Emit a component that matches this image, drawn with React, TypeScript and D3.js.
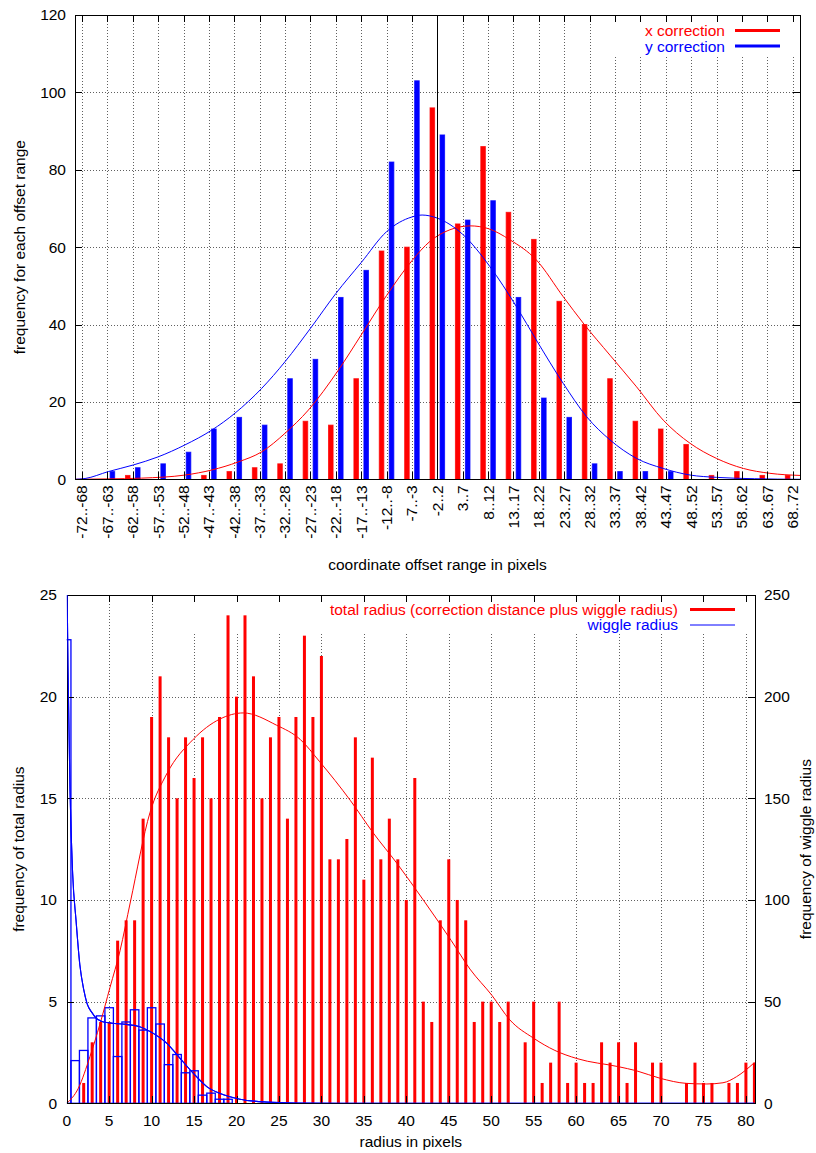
import React from "react";
import * as d3 from "d3";

// ---------- Top chart data ----------
const offsetLabels = [
  "-72..-68", "-67..-63", "-62..-58", "-57..-53", "-52..-48", "-47..-43", "-42..-38",
  "-37..-33", "-32..-28", "-27..-23", "-22..-18", "-17..-13", "-12..-8", "-7..-3",
  "-2..2", "3..7", "8..12", "13..17", "18..22", "23..27", "28..32", "33..37",
  "38..42", "43..47", "48..52", "53..57", "58..62", "63..67", "68..72",
];
const xCorrection = [0, 0, 1, 0, 0, 1, 2, 3, 4, 15, 14, 26, 59, 60, 96, 66, 86, 69, 62, 46, 40, 26, 15, 13, 9, 1, 2, 1, 1];
const yCorrection = [0, 2, 3, 4, 7, 13, 16, 14, 26, 31, 47, 54, 82, 103, 89, 67, 72, 47, 21, 16, 4, 2, 2, 2, 0, 0, 0, 0, 0];
const xFitPos = [-0.28, 1.0, 2.35, 4.06, 5.11, 6.16, 7.08, 8.0, 8.92, 10.1, 11.0, 12.0, 13.0, 13.71, 14.5, 15.3, 16.0, 16.86, 17.9, 18.96, 19.78, 20.8, 21.85, 22.9, 23.96, 25.0, 26.06, 27.1, 28.29];
const xFitVal = [0, 0.1, 0.3, 1.1, 2.4, 4.5, 7.1, 11.9, 17.9, 28.2, 37.3, 47.5, 56.5, 61.5, 64.5, 65.5, 64.8, 61.9, 56.7, 47.2, 40.1, 32.1, 23.9, 15.3, 9.3, 5.4, 2.8, 1.55, 1.0];
const yFitPos = [-0.28, 0.12, 1.04, 2.02, 3.0, 4.06, 5.11, 6.03, 7.08, 8.0, 9.0, 10.0, 11.0, 12.0, 13.0, 13.4, 14.0, 15.0, 16.07, 17.12, 17.9, 18.96, 19.88, 20.8, 21.85, 22.9, 23.96, 25.0, 26.5, 28.29];
const yFitVal = [0, 0.2, 2.0, 3.7, 5.8, 8.9, 12.7, 17.1, 23.5, 30.4, 39.0, 48.0, 56.0, 64.0, 67.8, 68.3, 67.5, 63.3, 55.0, 44.6, 36.0, 24.8, 16.2, 10.2, 5.4, 2.8, 1.1, 0.5, 0.15, 0];
const topYTicks = [0, 20, 40, 60, 80, 100, 120];

// ---------- Bottom chart data ----------
// index = radius in pixels (bin 0..81)
const totalRadiusCounts = [
  0, 0, 1, 3, 4, 4, 8, 9, 9, 14, 19, 21, 18, 15, 18, 16, 18, 15, 19, 24,
  20, 24, 21, 15, 18, 19, 14, 19, 23, 19, 22, 12, 12, 13, 18, 11, 17, 12, 14, 12,
  10, 16, 5, 4, 9, 12, 10, 9, 4, 5, 5, 4, 5, 0, 3, 5, 1, 2, 5, 1,
  2, 1, 1, 3, 2, 3, 1, 3, 0, 2, 2, 0, 0, 1, 2, 1, 1, 0, 1, 1, 2, 2,
];
const wiggleRadiusCounts = [228, 21, 26, 42, 43, 47, 23, 40, 46, 36, 47, 39, 19, 24, 15, 16, 4, 5, 2, 2, 0, 0, 0, 0, 0, 0];
const totalFitR = [0, 1.37, 2.74, 3.92, 5.1, 6.28, 7.5, 9.81, 11.78, 14.9, 18.05, 20.8, 24.7, 27.5, 29.8, 33.4, 36.1, 38.9, 42.0, 45.3, 47.5, 50.1, 52.2, 55.0, 57.5, 60.1, 65.0, 67.1, 69.9, 73.0, 75.4, 77.3, 78.9, 81.0];
const totalFitV = [0, 0.74, 2.3, 3.9, 5.7, 7.5, 9.9, 14.3, 16.2, 17.9, 18.9, 19.2, 18.6, 17.9, 16.8, 14.9, 13.3, 11.8, 10.0, 8.0, 6.6, 5.3, 4.1, 3.2, 2.6, 2.2, 1.8, 1.6, 1.23, 0.98, 0.95, 1.01, 1.31, 2.0];
const wiggleFitR = [0, 0.15, 0.39, 0.7, 1.1, 1.55, 2.0, 2.4, 3.0, 3.5, 4.7, 7.0, 8.6, 10.2, 11.8, 13.35, 14.9, 16.5, 18.0, 20.4, 23.6, 27, 32, 81];
const wiggleFitV = [270, 215, 154, 113, 90, 68, 56, 49, 44.5, 41.8, 39.7, 38.8, 37.7, 34.4, 29.5, 22.1, 14.8, 8.2, 4.9, 2.0, 0.6, 0.15, 0, 0];
const bottomXTicks = [0, 5, 10, 15, 20, 25, 30, 35, 40, 45, 50, 55, 60, 65, 70, 75, 80];
const bottomYTicks = [0, 5, 10, 15, 20, 25];
const bottomY2Ticks = [0, 50, 100, 150, 200, 250];

const FONT = "'Liberation Sans', Arial, Helvetica, sans-serif";
const RED = "#ff0000";
const BLUE = "#0000ff";
const GRID = "#606060";
const px = (v: number) => Math.round(v) + 0.5;

export default function App() {
  // top chart geometry
  const tL = 75, tR = 800, tT = 15, tB = 479.3;
  const xT = d3.scaleLinear().domain([-0.276, 28.29]).range([tL, tR]);
  const yT = d3.scaleLinear().domain([0, 120]).range([tB, tT]);
  const barOff = 0.197, barW = 0.18;
  const bwPx = xT(barW) - xT(0);

  const topLine = d3.line<[number, number]>().x(d => xT(d[0])).y(d => yT(d[1])).curve(d3.curveMonotoneX);
  const xFitPath = topLine(xFitPos.map((p, i) => [p, xFitVal[i]]) as [number, number][]) || "";
  const yFitPath = topLine(yFitPos.map((p, i) => [p, yFitVal[i]]) as [number, number][]) || "";

  // bottom chart geometry
  const bL = 66.7, bR = 755, bT = 595, bB = 1103.3;
  const xB = d3.scaleLinear().domain([0, 81.07]).range([bL, bR]);
  const yB = d3.scaleLinear().domain([0, 25]).range([bB, bT]);
  const yB2 = d3.scaleLinear().domain([0, 250]).range([bB, bT]);
  const unit = xB(1) - xB(0);

  const totalLine = d3.line<[number, number]>().x(d => xB(d[0])).y(d => yB(d[1])).curve(d3.curveMonotoneX);
  const wiggleLine = d3.line<[number, number]>().x(d => xB(d[0])).y(d => yB2(d[1])).curve(d3.curveMonotoneX);
  const totalFitPath = totalLine(totalFitR.map((r, i) => [r, totalFitV[i]]) as [number, number][]) || "";
  const wiggleFitPath = wiggleLine(wiggleFitR.map((r, i) => [r, wiggleFitV[i]]) as [number, number][]) || "";

  const tickLen = 7;

  return (
    <svg width={816} height={1153} style={{ position: "absolute", left: 0, top: 0, background: "#fff" }}
      fontFamily={FONT} fontSize={15.5}>
      <defs>
        <clipPath id="clipTop"><rect x={tL} y={tT} width={tR - tL} height={tB - tT} /></clipPath>
        <clipPath id="clipBot"><rect x={bL} y={bT} width={bR - bL} height={bB - bT} /></clipPath>
      </defs>
      <rect x={0} y={0} width={816} height={1153} fill="#fff" />

      {/* ================= TOP CHART ================= */}
      <g shapeRendering="crispEdges">
        {offsetLabels.map((_, i) => (
          <line key={"tvg" + i} x1={px(xT(i))} x2={px(xT(i))} y1={tT} y2={tB} stroke={GRID} strokeDasharray="1 2" />
        ))}
        {topYTicks.slice(1, -1).map(t => (
          <line key={"thg" + t} x1={tL} x2={tR} y1={px(yT(t))} y2={px(yT(t))} stroke={GRID} strokeDasharray="1 2" />
        ))}
      </g>
      {/* legend background */}
      <rect x={600} y={tT + 1} width={tR - 601} height={40} fill="#fff" />

      <g clipPath="url(#clipTop)">
        {xCorrection.map((v, i) => (
          <rect key={"xr" + i} x={xT(i - barOff) - bwPx / 2} y={yT(v)} width={bwPx} height={yT(0) - yT(v)}
            fill={RED} stroke={RED} strokeWidth={1} strokeOpacity={0.75} />
        ))}
        {yCorrection.map((v, i) => (
          <rect key={"yr" + i} x={xT(i + barOff) - bwPx / 2} y={yT(v)} width={bwPx} height={yT(0) - yT(v)}
            fill={BLUE} stroke={BLUE} strokeWidth={1} strokeOpacity={0.75} />
        ))}
        <path d={xFitPath} fill="none" stroke={RED} strokeWidth={1} />
        <path d={yFitPath} fill="none" stroke={BLUE} strokeWidth={1} />
      </g>
      {/* zero marker line */}
      <line x1={px(xT(14))} x2={px(xT(14))} y1={tT} y2={tB} stroke="#000" strokeWidth={1} shapeRendering="crispEdges" />

      {/* border and ticks */}
      <g shapeRendering="crispEdges" stroke="#000">
        <rect x={px(tL)} y={px(tT)} width={Math.round(tR - tL)} height={Math.round(tB - tT)} fill="none" />
        {offsetLabels.map((_, i) => (
          <g key={"tt" + i}>
            <line x1={px(xT(i))} x2={px(xT(i))} y1={tB} y2={tB - tickLen} />
            <line x1={px(xT(i))} x2={px(xT(i))} y1={tT} y2={tT + tickLen} />
          </g>
        ))}
        {topYTicks.map(t => (
          <g key={"ty" + t}>
            <line x1={tL} x2={tL + tickLen} y1={px(yT(t))} y2={px(yT(t))} />
            <line x1={tR} x2={tR - tickLen} y1={px(yT(t))} y2={px(yT(t))} />
          </g>
        ))}
      </g>

      {/* tick labels */}
      {topYTicks.map(t => (
        <text key={"tyl" + t} x={66} y={yT(t)} dy="0.35em" textAnchor="end" fill="#000">{t}</text>
      ))}
      {offsetLabels.map((lab, i) => (
        <text key={"txl" + i} transform={`translate(${xT(i)},${tB + 6}) rotate(-90)`} dy="0.35em" textAnchor="end" fill="#000">{lab}</text>
      ))}
      <text x={(tL + tR) / 2} y={570} textAnchor="middle" fill="#000">coordinate offset range in pixels</text>
      <text transform={`translate(20,${(tT + tB) / 2}) rotate(-90)`} dy="0.35em" textAnchor="middle" fill="#000">frequency for each offset range</text>

      {/* legend */}
      <text x={725} y={36} textAnchor="end" fill={RED}>x correction</text>
      <line x1={735} x2={780} y1={30.5} y2={30.5} stroke={RED} strokeWidth={3} />
      <text x={725} y={51.5} textAnchor="end" fill={BLUE}>y correction</text>
      <line x1={735} x2={780} y1={46} y2={46} stroke={BLUE} strokeWidth={3} />

      {/* ================= BOTTOM CHART ================= */}
      <g shapeRendering="crispEdges">
        {bottomXTicks.slice(1).map(t => (
          <line key={"bvg" + t} x1={px(xB(t))} x2={px(xB(t))} y1={bT} y2={bB} stroke={GRID} strokeDasharray="1 2" />
        ))}
        {bottomYTicks.slice(1, -1).map(t => (
          <line key={"bhg" + t} x1={bL} x2={bR} y1={px(yB(t))} y2={px(yB(t))} stroke={GRID} strokeDasharray="1 2" />
        ))}
      </g>
      <rect x={175} y={bT + 1} width={bR - 176} height={38} fill="#fff" />

      <g clipPath="url(#clipBot)">
        {totalRadiusCounts.map((v, k) => (
          <rect key={"br" + k} x={xB(k) - 1.5} y={yB(v)} width={3} height={yB(0) - yB(v)} fill={RED} />
        ))}
        {wiggleRadiusCounts.map((v, k) => (
          <rect key={"bw" + k} x={xB(k - 0.5)} y={yB2(v)} width={unit} height={yB2(0) - yB2(v)}
            fill="none" stroke={BLUE} strokeWidth={1.3} />
        ))}
        <path d={totalFitPath} fill="none" stroke={RED} strokeWidth={1} />
        <path d={wiggleFitPath} fill="none" stroke={BLUE} strokeWidth={1.1} />
      </g>

      <g shapeRendering="crispEdges" stroke="#000">
        <rect x={px(bL)} y={px(bT)} width={Math.round(bR - bL)} height={Math.round(bB - bT)} fill="none" />
        {bottomXTicks.map(t => (
          <g key={"bxt" + t}>
            <line x1={px(xB(t))} x2={px(xB(t))} y1={bB} y2={bB - tickLen} />
            <line x1={px(xB(t))} x2={px(xB(t))} y1={bT} y2={bT + tickLen} />
          </g>
        ))}
        {bottomYTicks.map(t => (
          <line key={"byt" + t} x1={bL} x2={bL + tickLen} y1={px(yB(t))} y2={px(yB(t))} />
        ))}
        {bottomY2Ticks.map(t => (
          <line key={"by2t" + t} x1={bR} x2={bR - tickLen} y1={px(yB2(t))} y2={px(yB2(t))} />
        ))}
      </g>
      {/* blue overlays on axis lines */}
      <g clipPath="url(#clipBot)">
        <path d={wiggleFitPath} fill="none" stroke={BLUE} strokeWidth={1.1} />
      </g>

      {bottomXTicks.map(t => (
        <text key={"bxl" + t} x={xB(t)} y={1126} textAnchor="middle" fill="#000">{t}</text>
      ))}
      {bottomYTicks.map(t => (
        <text key={"byl" + t} x={57} y={yB(t)} dy="0.35em" textAnchor="end" fill="#000">{t}</text>
      ))}
      {bottomY2Ticks.map(t => (
        <text key={"by2l" + t} x={764} y={yB2(t)} dy="0.35em" textAnchor="start" fill="#000">{t}</text>
      ))}
      <text x={(bL + bR) / 2} y={1147} textAnchor="middle" fill="#000">radius in pixels</text>
      <text transform={`translate(19,${(bT + bB) / 2}) rotate(-90)`} dy="0.35em" textAnchor="middle" fill="#000">frequency of total radius</text>
      <text transform={`translate(806,${(bT + bB) / 2}) rotate(-90)`} dy="0.35em" textAnchor="middle" fill="#000">frequency of wiggle radius</text>

      <text x={678} y={614.5} textAnchor="end" fill={RED}>total radius (correction distance plus wiggle radius)</text>
      <line x1={690} x2={735} y1={609.5} y2={609.5} stroke={RED} strokeWidth={3} />
      <text x={678} y={630} textAnchor="end" fill={BLUE}>wiggle radius</text>
      <line x1={690} x2={735} y1={625} y2={625} stroke={BLUE} strokeWidth={1} />
    </svg>
  );
}
